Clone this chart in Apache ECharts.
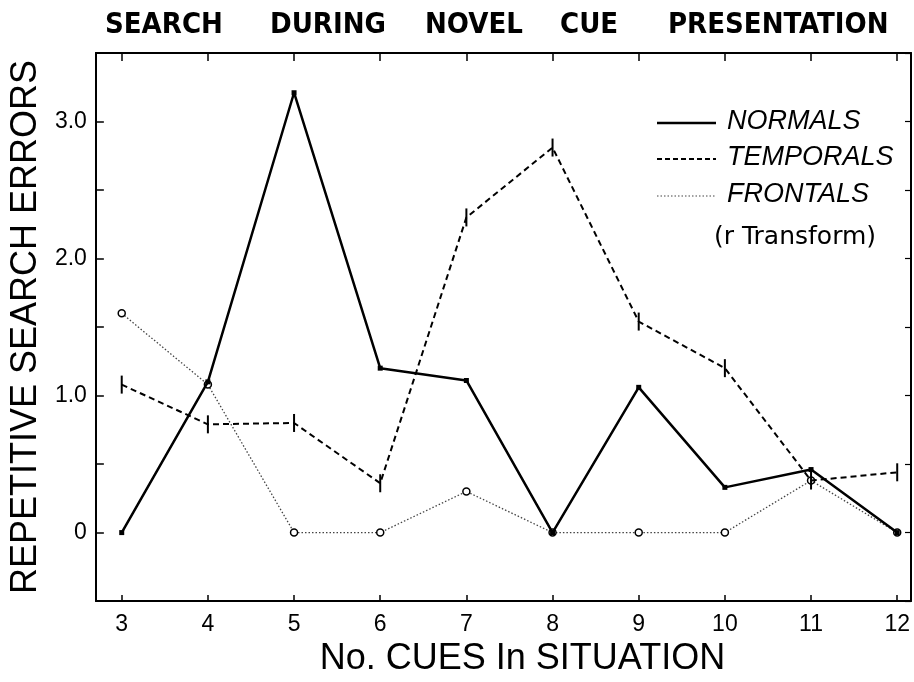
<!DOCTYPE html>
<html>
<head>
<meta charset="utf-8">
<script src="https://cdn.jsdelivr.net/npm/echarts@6/dist/echarts.min.js"></script>
<style>
html,body{margin:0;padding:0;background:#fff;}
#chart{width:914px;height:682px;}
</style>
</head>
<body>
<div id="chart"></div>
<script>
// ---- data ----
const cues = [3, 4, 5, 6, 7, 8, 9, 10, 11, 12];
const normals   = [0, 1.10, 3.21, 1.20, 1.11, 0, 1.06, 0.33, 0.46, 0];
const temporals = [1.08, 0.79, 0.80, 0.36, 2.30, 2.81, 1.54, 1.20, 0.38, 0.44];
const frontals  = [1.60, 1.08, 0, 0, 0.30, 0, 0, 0, 0.38, 0];
const yTickValues = [0, 1, 2, 3];
const yTickLabels = ['0', '1.0', '2.0', '3.0'];
const yMinorTicks = [-0.5, 0, 0.5, 1, 1.5, 2, 2.5, 3, 3.5];
const titleWords = ['SEARCH', 'DURING', 'NOVEL', 'CUE', 'PRESENTATION'];
const seriesNames = ['NORMALS', 'TEMPORALS', 'FRONTALS'];
const noteText = '(r Transform)';

const pairs = arr => cues.map((c, i) => [c, arr[i]]);

const chart = echarts.init(document.getElementById('chart'), null, {renderer: 'canvas'});

const titleLefts = [100, 265, 420, 555, 663];
const titleFont = {fontFamily: 'DejaVu Sans Condensed, Liberation Sans Narrow, sans-serif', fontWeight: 'bold', fontSize: 29, color: '#000'};

const axisLine = {show: true, onZero: false, lineStyle: {color: '#000', width: 2}};

const legendRows = [123, 159, 196];
const legendStyles = [
  {stroke: '#000', lineWidth: 2.5},
  {stroke: '#000', lineWidth: 2, lineDash: [5, 3]},
  {stroke: '#444', lineWidth: 1.2, lineDash: [1.5, 2]}
];
const graphics = [];
seriesNames.forEach((n, i) => {
  graphics.push({type: 'line', shape: {x1: 657, y1: legendRows[i], x2: 716, y2: legendRows[i]}, style: legendStyles[i]});
  graphics.push({type: 'text', left: 727, top: legendRows[i] - 15, style: {text: n, fontFamily: 'Liberation Sans, sans-serif', fontStyle: 'italic', fontSize: 27, fill: '#000'}});
});
graphics.push({type: 'text', left: 714, top: 225, style: {text: noteText, fontFamily: 'DejaVu Sans, sans-serif', fontSize: 25, fill: '#000'}});

chart.setOption({
  animation: false,
  backgroundColor: '#fff',
  title: titleWords.map((w, i) => ({text: w, left: titleLefts[i], top: 6, textStyle: titleFont})),
  grid: {left: 93, right: 3, top: 53, bottom: 77},
  xAxis: [
    {
      type: 'value', min: 2.7, max: 12.16, position: 'bottom',
      name: 'No. CUES In SITUATION', nameLocation: 'middle', nameGap: 38,
      nameTextStyle: {fontFamily: 'Liberation Sans, sans-serif', fontSize: 36, color: '#000', padding: [0, 0, 0, 38]},
      axisLine: axisLine,
      axisTick: {show: true, inside: true, length: 6, customValues: cues, lineStyle: {color: '#000', width: 1.5}},
      axisLabel: {show: true, customValues: cues, margin: 12, fontFamily: 'Liberation Sans, sans-serif', fontSize: 23, color: '#000'},
      splitLine: {show: false}
    },
    {
      type: 'value', min: 2.7, max: 12.16, position: 'top',
      axisLine: axisLine,
      axisTick: {show: true, inside: true, length: 8, customValues: cues, lineStyle: {color: '#000', width: 1.5}},
      axisLabel: {show: false},
      splitLine: {show: false}
    }
  ],
  yAxis: [
    {
      type: 'value', min: -0.5, max: 3.5, position: 'left',
      name: 'REPETITIVE SEARCH ERRORS', nameLocation: 'middle', nameGap: 50,
      nameTextStyle: {fontFamily: 'Liberation Sans, sans-serif', fontSize: 36, color: '#000'},
      axisLine: axisLine,
      axisTick: {show: true, inside: true, length: 8, customValues: yMinorTicks, lineStyle: {color: '#000', width: 1.5}},
      axisLabel: {show: true, customValues: yTickValues, margin: 9,
        formatter: v => yTickLabels[yTickValues.indexOf(v)] ?? '',
        fontFamily: 'Liberation Sans, sans-serif', fontSize: 23, color: '#000'},
      splitLine: {show: false}
    },
    {
      type: 'value', min: -0.5, max: 3.5, position: 'right',
      axisLine: axisLine,
      axisTick: {show: true, inside: true, length: 6, customValues: yMinorTicks, lineStyle: {color: '#000', width: 1.2}},
      axisLabel: {show: false},
      splitLine: {show: false}
    }
  ],
  series: [
    {
      name: seriesNames[0], type: 'line', data: pairs(normals),
      symbol: 'rect', symbolSize: 5,
      lineStyle: {color: '#000', width: 2.5},
      itemStyle: {color: '#000'}, z: 4
    },
    {
      name: seriesNames[1], type: 'line', data: pairs(temporals),
      symbol: 'rect', symbolSize: [2, 18],
      lineStyle: {color: '#000', width: 2, type: [6, 4]},
      itemStyle: {color: '#000'}, z: 3
    },
    {
      name: seriesNames[2], type: 'line', data: pairs(frontals),
      symbol: 'circle', symbolSize: 7,
      lineStyle: {color: '#444', width: 1.3, type: [1.5, 2]},
      itemStyle: {color: '#fff', borderColor: '#000', borderWidth: 1.5}, z: 2
    }
  ],
  graphic: graphics
});
</script>
</body>
</html>
